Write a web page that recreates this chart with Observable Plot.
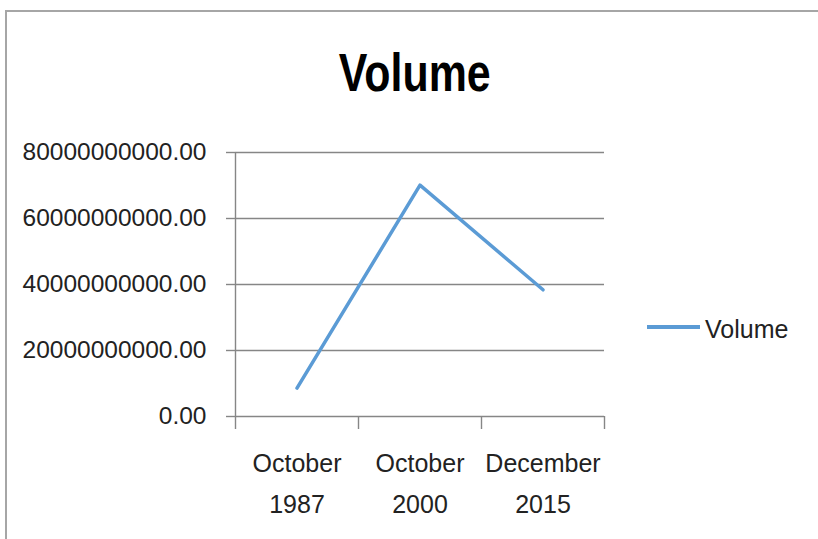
<!DOCTYPE html>
<html>
<head>
<meta charset="utf-8">
<script src="https://cdn.jsdelivr.net/npm/d3@7"></script>
<script src="https://cdn.jsdelivr.net/npm/@observablehq/plot@0.6"></script>
<style>
  html, body { margin: 0; padding: 0; background: #fff; }
  #wrap { position: relative; width: 818px; height: 539px; overflow: hidden; background: #fff; }
  #border { position: absolute; left: 5px; top: 10px; width: 830px; height: 560px; border: 2px solid #a6a6a6; box-sizing: border-box; }
  #title { position: absolute; left: 0; width: 830px; top: 46px; text-align: center; font-family: "Liberation Sans", Arial, sans-serif; font-weight: bold; font-size: 53px; line-height: 53px; color: #000; }
  #title span { display: inline-block; transform: scaleX(0.81); transform-origin: center; }
  #legline { position: absolute; left: 647px; top: 325px; width: 53px; height: 3.5px; background: #5B9BD5; }
  #legtext { position: absolute; left: 705px; top: 317px; font-family: "Liberation Sans", Arial, sans-serif; font-size: 25px; line-height: 25px; color: #222; }
  #chart { position: absolute; left: 0; top: 0; }
</style>
</head>
<body>
<div id="wrap">
  <div id="border"></div>
  <div id="chart"></div>
  <div id="title"><span>Volume</span></div>
  <div id="legline"></div>
  <div id="legtext">Volume</div>
</div>
<script>
const categories = ["October\n1987", "October\n2000", "December\n2015"];
const volumes = [8.6e9, 70.1e9, 38.4e9];
const yTicks = [0, 20e9, 40e9, 60e9, 80e9];

const data = categories.map((c, i) => ({ pos: i + 0.5, label: c, volume: volumes[i] }));
const boundaries = d3.range(categories.length + 1);
const centers = categories.map((c, i) => i + 0.5);

const chart = Plot.plot({
  width: 818,
  height: 539,
  marginLeft: 235,
  marginRight: 214,
  marginTop: 152,
  marginBottom: 123,
  style: { fontFamily: "'Liberation Sans', Arial, sans-serif", color: "#222", background: "transparent" },
  x: { domain: [0, categories.length] },
  y: { domain: [0, 80e9] },
  marks: [
    Plot.gridY(yTicks, { stroke: "#868686", strokeOpacity: 1, strokeWidth: 1.4 }),
    Plot.ruleX([0], { stroke: "#868686", strokeWidth: 1.4 }),
    Plot.axisY({ ticks: yTicks, tickFormat: d3.format(".2f"), tickSize: 9, tickPadding: 20, fontSize: 24.5, stroke: "#868686", strokeWidth: 1.4, label: null }),
    Plot.axisX({ ticks: boundaries, tickFormat: () => "", tickSize: 13, stroke: "#868686", strokeWidth: 1.4, label: null }),
    Plot.axisX({ ticks: centers, tickFormat: (d) => categories[Math.round(d - 0.5)], tickSize: 0, tickPadding: 26, fontSize: 25, lineHeight: 1.64, label: null }),
    Plot.line(data, { x: "pos", y: "volume", stroke: "#5B9BD5", strokeWidth: 3.5 })
  ]
});
document.getElementById("chart").appendChild(chart);
</script>
</body>
</html>
